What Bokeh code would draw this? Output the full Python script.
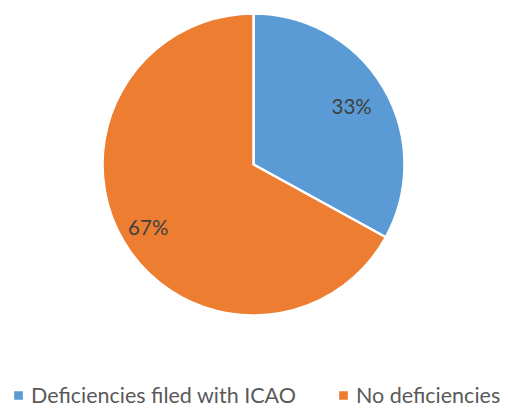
import math
from bokeh.plotting import figure
from bokeh.models import ColumnDataSource, Legend, LegendItem
from bokeh.core.properties import value
from bokeh.embed import file_html
from bokeh.resources import INLINE

categories = ["Deficiencies filed with ICAO", "No deficiencies"]
values = [33, 67]
colors = ["#5B9BD5", "#ED7D31"]

W, H = 508, 408
CX, CY, R = 253, 244, 151
FONT = "Lato"

total = sum(values)
starts, ends, mids, labels = [], [], [], []
a = math.pi / 2
for v in values:
    span = 2 * math.pi * v / total
    starts.append(a)
    ends.append(a - span)
    mids.append(a - span / 2)
    labels.append(f"{round(100 * v / total)}%")
    a -= span

label_frac = [0.755, 0.81]
lx = [CX + R * f * math.cos(m) for f, m in zip(label_frac, mids)]
ly = [CY + R * f * math.sin(m) for f, m in zip(label_frac, mids)]

src = ColumnDataSource(dict(cat=categories, start=starts, end=ends, color=colors,
                            lx=lx, ly=ly, label=labels))

p = figure(width=W, height=H, x_range=(0, W), y_range=(0, H),
           output_backend="svg", toolbar_location=None, min_border=0)
p.axis.visible = False
p.grid.visible = False
p.outline_line_color = None
p.background_fill_color = "white"

w = p.wedge(x=CX, y=CY, radius=R, start_angle="start", end_angle="end",
            direction="clock", fill_color="color", line_color="white",
            line_width=2.5, source=src)

p.text(x="lx", y="ly", text="label", source=src, text_align="center",
       text_baseline="middle", text_font=value(FONT), text_font_size="20.5px",
       text_color="#404040")

legend = Legend(items=[LegendItem(label=c, renderers=[w], index=i)
                       for i, c in enumerate(categories)],
                orientation="horizontal", location=(11, 0),
                glyph_width=14, glyph_height=14, label_standoff=6, spacing=40,
                padding=0, margin=0, border_line_alpha=0,
                background_fill_alpha=0,
                label_text_font=FONT, label_text_font_size="21.5px",
                label_text_color="#595959")
p.add_layout(legend, "center")

open("out.html", "w").write(file_html(p, INLINE))
